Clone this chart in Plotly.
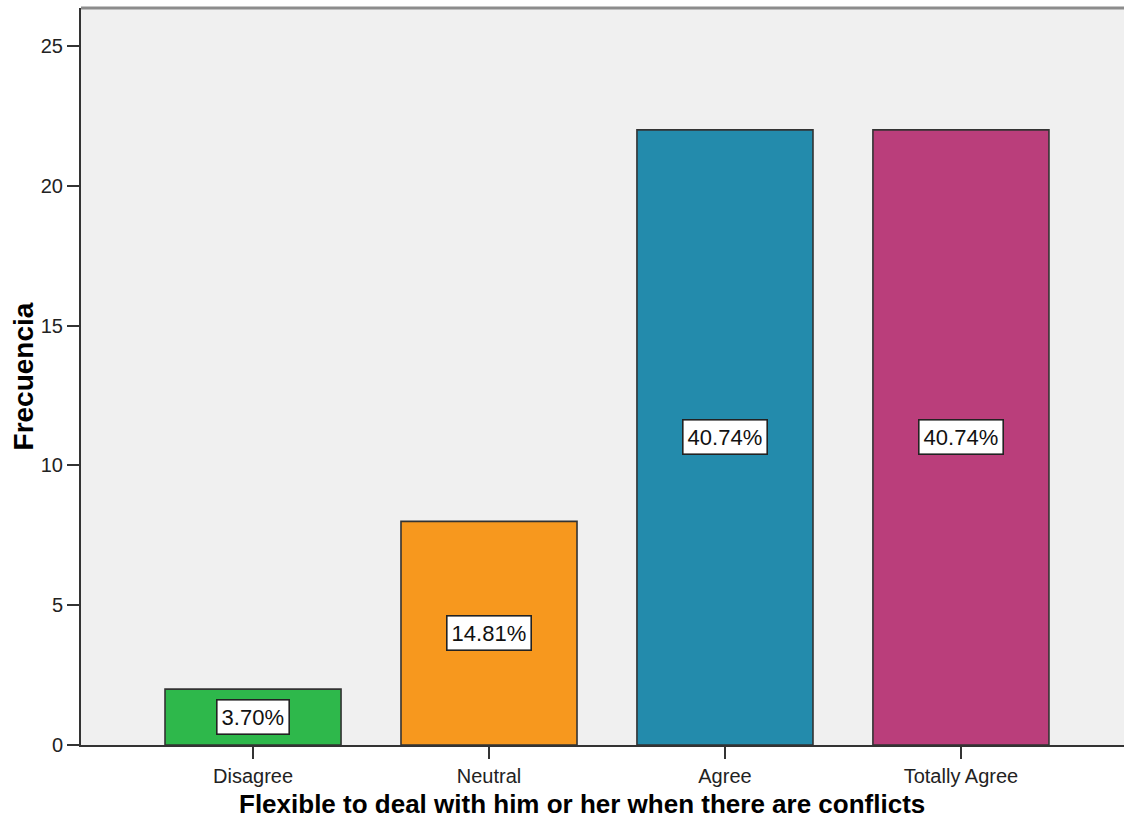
import plotly.graph_objects as go

categories = ["Disagree", "Neutral", "Agree", "Totally Agree"]
frequencies = [2, 8, 22, 22]
percent_labels = ["3.70%", "14.81%", "40.74%", "40.74%"]
bar_colors = ["#2EB84B", "#F7981E", "#238BAC", "#BA3E7B"]
y_ticks = [0, 5, 10, 15, 20, 25]

fig = go.Figure()
fig.add_trace(go.Bar(
    x=categories,
    y=frequencies,
    width=0.746,
    marker=dict(color=bar_colors, line=dict(color="#333333", width=1.6)),
    hoverinfo="x+y",
    showlegend=False,
))

for cat, val, lab in zip(categories, frequencies, percent_labels):
    fig.add_annotation(
        x=cat, y=val / 2, text=lab, showarrow=False,
        font=dict(family="Liberation Sans, Arial", size=22, color="#111111"),
        bgcolor="white", bordercolor="#222222", borderwidth=1.6, borderpad=4,
        xanchor="center", yanchor="middle",
    )

fig.add_annotation(
    xref="paper", yref="paper", x=0.480, y=-0.080,
    text="<b>Flexible to deal with him or her when there are conflicts</b>",
    showarrow=False, xanchor="center", yanchor="middle",
    font=dict(family="Liberation Sans, Arial", size=26, color="#000000"),
)
fig.add_annotation(
    xref="paper", yref="paper", x=-0.0547, y=0.5,
    text="<b>Frecuencia</b>", textangle=-90,
    showarrow=False, xanchor="center", yanchor="middle",
    font=dict(family="Liberation Sans, Arial", size=28, color="#000000"),
)

fig.add_shape(type="line", xref="paper", yref="paper", x0=0, x1=1, y0=1, y1=1,
              line=dict(color="#8C8C8C", width=3))

fig.update_layout(
    width=1124, height=821,
    margin=dict(l=81, r=0, t=8, b=76),
    paper_bgcolor="white",
    plot_bgcolor="#F0F0F0",
    font=dict(family="Liberation Sans, Arial", size=20, color="#222222"),
    xaxis=dict(
        type="category", range=[-0.729, 3.691],
        showgrid=False, showline=True, linecolor="#333333", linewidth=2,
        ticks="outside", ticklen=12, tickwidth=2, tickcolor="#333333",
        tickfont=dict(size=20, color="#222222"), zeroline=False,
    ),
    yaxis=dict(
        range=[0, 26.36], tickvals=y_ticks,
        showgrid=False, showline=True, linecolor="#333333", linewidth=2,
        ticks="outside", ticklen=12, tickwidth=2, tickcolor="#333333",
        tickfont=dict(size=20, color="#222222"), zeroline=False,
    ),
)

fig.write_html(
    "out.html",
    config={"displayModeBar": False},
    post_script="document.body.style.margin='0';document.body.style.overflow='hidden';",
)
